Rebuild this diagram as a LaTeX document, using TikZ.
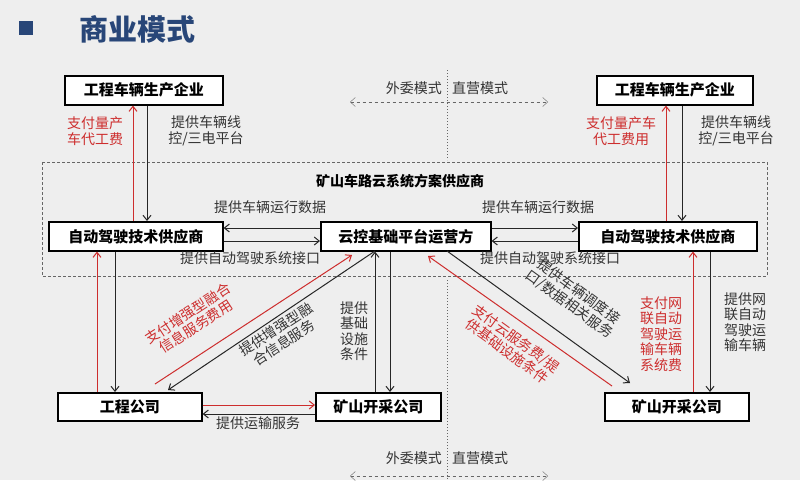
\documentclass[tikz,border=0pt]{standalone}
\usepackage{fontspec}
\setmainfont{Noto Sans CJK SC}
\usetikzlibrary{arrows.meta}
\definecolor{bg}{RGB}{238,238,238}
\definecolor{rd}{RGB}{205,45,45}
\definecolor{tt}{RGB}{40,70,120}
\begin{document}
\begin{tikzpicture}[x=1pt,y=-1pt,
  box/.style={draw,line width=1.6pt,fill=white,font=\bfseries\fontsize{15}{17}\selectfont,inner sep=0pt,anchor=north west},
  lab/.style={font=\fontsize{14}{15.5}\selectfont,align=center,inner sep=1pt,text=black!80},
  rlab/.style={lab,text=rd},
  bar/.style={-{Straight Barb[length=5pt,width=8pt]},line width=1pt,black!85},
  rar/.style={-{Straight Barb[length=5pt,width=8pt]},line width=1pt,rd},
  dot/.style={dotted,line width=1pt,black!60}]
\fill[bg] (0,0) rectangle (800,480);
\useasboundingbox (0,0) rectangle (800,480);
\fill[tt] (19,21) rectangle (33,35);
\node[font=\bfseries\fontsize{29}{31}\selectfont,text=tt,anchor=west] (title) at (76,29) {商业模式};
% mode separators
\draw[dot] (447,70) -- (447,160);
\draw[dot] (447,280) -- (447,480);
\node[lab,anchor=east] (wa) at (443,88) {外委模式};
\node[lab,anchor=west] (za) at (451,88) {直营模式};
\draw[dashed,black!60,{Straight Barb[length=5pt,width=9pt]}-{Straight Barb[length=5pt,width=9pt]}] (350,102) -- (548,102);
\node[lab,anchor=east] (wb) at (443,458) {外委模式};
\node[lab,anchor=west] (zb) at (451,458) {直营模式};
\draw[dashed,black!60,{Straight Barb[length=5pt,width=9pt]}-{Straight Barb[length=5pt,width=9pt]}] (350,476) -- (548,476);
% big dashed box
\draw[densely dashed,black!60,line width=0.8pt] (42,162) rectangle (767,276);
\node[font=\bfseries\fontsize{14}{16}\selectfont] (sys) at (400,181) {矿山车路云系统方案供应商};
% boxes
\node[box,minimum width=158pt,minimum height=29pt] (tl) at (64,75) {工程车辆生产企业};
\node[box,minimum width=156pt,minimum height=29pt] (tr) at (596,75) {工程车辆生产企业};
\node[box,minimum width=174pt,minimum height=29pt] (al) at (48,221) {自动驾驶技术供应商};
\node[box,minimum width=170pt,minimum height=29pt] (cc) at (320,221) {云控基础平台运营方};
\node[box,minimum width=178pt,minimum height=29pt] (ar) at (578,221) {自动驾驶技术供应商};
\node[box,minimum width=144pt,minimum height=28pt] (gc) at (57,392) {工程公司};
\node[box,minimum width=125pt,minimum height=28pt] (mm) at (315,392) {矿山开采公司};
\node[box,minimum width=144pt,minimum height=28pt] (mr) at (604,392) {矿山开采公司};
% top left
\draw[rar] (al.north west -| 133,0) -- (tl.south west -| 133,0);
\draw[bar] (tl.south west -| 147,0) -- (al.north west -| 147,0);
\node[rlab] (l1) at (95,131) {支付量产\\车代工费};
\node[lab] (l2) at (206,131) {提供车辆线\\控/三电平台};
% top right
\draw[rar] (ar.north west -| 666,0) -- (tr.south west -| 666,0);
\draw[bar] (tr.south west -| 682,0) -- (ar.north west -| 682,0);
\node[rlab] (l3) at (621,131) {支付量产车\\代工费用};
\node[lab] (l4) at (736,131) {提供车辆线\\控/三电平台};
% ADS <-> center
\draw[bar] (cc.west |- 0,228) -- (al.east |- 0,228);
\draw[bar] (al.east |- 0,241) -- (cc.west |- 0,241);
\node[lab] (l5) at (270,207) {提供车辆运行数据};
\node[lab] (l6) at (250,258) {提供自动驾驶系统接口};
\draw[bar] (cc.east |- 0,228) -- (ar.west |- 0,228);
\draw[bar] (ar.west |- 0,241) -- (cc.east |- 0,241);
\node[lab] (l7) at (538,207) {提供车辆运行数据};
\node[lab] (l8) at (550,258) {提供自动驾驶系统接口};
% left ADS <-> 工程公司
\draw[rar] (gc.north west -| 97,0) -- (al.south west -| 97,0);
\draw[bar] (al.south west -| 115,0) -- (gc.north west -| 115,0);
% 工程公司 <-> center
\draw[rar] (155,384) -- (352,255);
\draw[bar] (375,251) -- (168,390);
\node[rlab,rotate=33] (l9) at (192,320) {支付增强型融合\\信息服务费用};
\node[lab,rotate=33] (l10) at (280,336) {提供增强型融\\合信息服务};
% center <-> middle mine
\draw[bar] (mm.north west -| 375,0) -- (cc.south west -| 375,0);
\draw[bar] (cc.south west -| 390,0) -- (mm.north west -| 390,0);
\node[lab] (l11) at (354,331) {提供\\基础\\设施\\条件};
% 工程公司 <-> middle mine
\draw[rar] (gc.east |- 0,405) -- (mm.west |- 0,405);
\draw[bar] (mm.west |- 0,414) -- (gc.east |- 0,414);
\node[lab] (l12) at (258,423) {提供运输服务};
% center <-> right mine
\draw[bar] (447,251) -- (630,383);
\draw[rar] (612,386) -- (428,256);
\node[lab,rotate=-36] (l13) at (574,298) {提供车辆调度接\\口/数据相关服务};
\node[rlab,rotate=-36] (l14) at (512,345) {支付云服务费/提\\供基础设施条件};
% right ADS <-> right mine
\draw[rar] (mr.north west -| 693,0) -- (ar.south west -| 693,0);
\draw[bar] (ar.south west -| 710,0) -- (mr.north west -| 710,0);
\node[rlab] (l15) at (661,334) {支付网\\联自动\\驾驶运\\输车辆\\系统费};
\node[lab] (l16) at (745,322) {提供网\\联自动\\驾驶运\\输车辆};
\end{tikzpicture}
\end{document}
